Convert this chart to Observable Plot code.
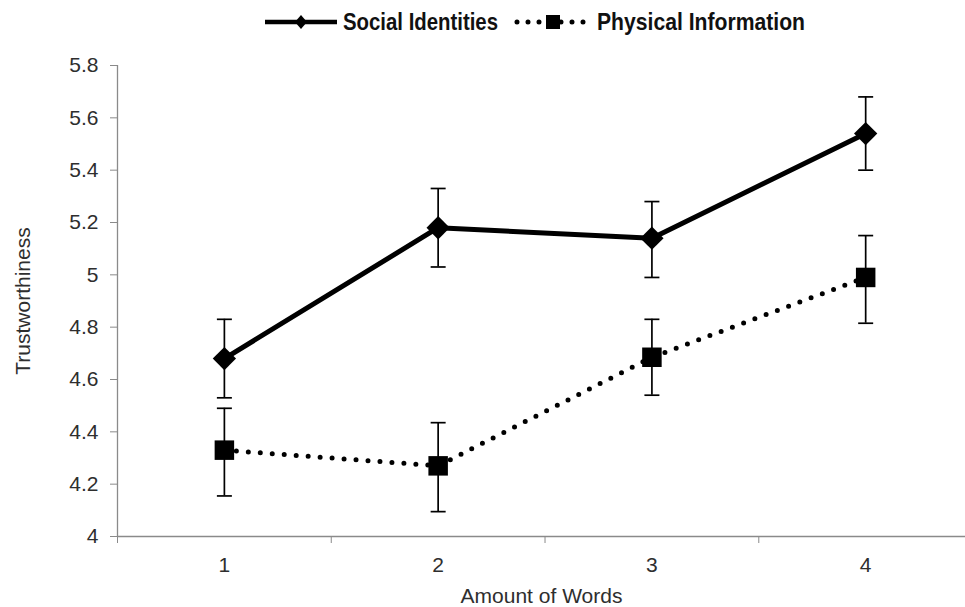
<!DOCTYPE html>
<html>
<head>
<meta charset="utf-8">
<script src="https://cdn.jsdelivr.net/npm/d3@7"></script>
<script src="https://cdn.jsdelivr.net/npm/@observablehq/plot@0.6"></script>
<style>
  html, body { margin: 0; padding: 0; background: #fff; }
  #wrap { width: 965px; height: 607px; overflow: hidden; position: relative; }
  #legend { height: 44px; display: flex; align-items: center; justify-content: center; padding-left: 104px; box-sizing: border-box; width: 965px;
    font-family: 'Liberation Sans', Arial, sans-serif; font-weight: bold; font-size: 24px; color: #111; }
  #legend .item { display: flex; align-items: center; }
  #legend svg { display: block; overflow: visible; }
  #legend .gap { width: 10px; }
</style>
</head>
<body>
<div id="wrap">
  <div id="legend"></div>
  <div id="chart"></div>
</div>
<script>
// ---- data ----
const categories = [1, 2, 3, 4];
const xTickLabels = ["1", "2", "3", "4"];
const seriesNames = ["Social Identities", "Physical Information"];
const socialMean = [4.68, 5.18, 5.14, 5.54];
const socialLow  = [4.53, 5.03, 4.99, 5.40];
const socialHigh = [4.83, 5.33, 5.28, 5.68];
const physicalMean = [4.33, 4.27, 4.685, 4.99];
const physicalLow  = [4.155, 4.095, 4.54, 4.815];
const physicalHigh = [4.49, 4.435, 4.83, 5.15];
const yTicks = [4, 4.2, 4.4, 4.6, 4.8, 5, 5.2, 5.4, 5.6, 5.8];

const social = categories.map((c, i) => ({x: c, y: socialMean[i], low: socialLow[i], high: socialHigh[i]}));
const physical = categories.map((c, i) => ({x: c, y: physicalMean[i], low: physicalLow[i], high: physicalHigh[i]}));
const all = social.concat(physical);

const capSymbol = {
  draw(context, size) {
    const r = Math.sqrt(size / Math.PI);
    context.moveTo(-r, 0);
    context.lineTo(r, 0);
  }
};

// ---- legend ----
const legend = document.getElementById("legend");
legend.innerHTML = `
  <div class="item">
    <svg width="76" height="20"><line x1="2" y1="10" x2="74" y2="10" stroke="#000" stroke-width="4.5"/>
      <path d="M38,3L44,10L38,17L32,10Z" fill="#000"/></svg>
    <svg width="160" height="30" style="margin-left:4px"><text x="0" y="23" textLength="155" lengthAdjust="spacingAndGlyphs" fill="#111">${seriesNames[0]}</text></svg>
  </div>
  <div class="gap"></div>
  <div class="item">
    <svg width="80" height="20"><line x1="4" y1="10" x2="76" y2="10" stroke="#000" stroke-width="5" stroke-linecap="round" stroke-dasharray="0 11"/>
      <rect x="33" y="3" width="14" height="14" fill="#000"/></svg>
    <svg width="210" height="30" style="margin-left:4px"><text x="0" y="23" textLength="208" lengthAdjust="spacingAndGlyphs" fill="#111">${seriesNames[1]}</text></svg>
  </div>`;

// ---- chart ----
const axisColor = "#8a8a8a";
const textColor = "#2e2e2e";
const chart = Plot.plot({
  width: 965,
  height: 563,
  marginTop: 21,
  marginBottom: 71,
  marginLeft: 117,
  marginRight: 0,
  style: { fontFamily: "'Liberation Sans', Arial, sans-serif", fontSize: "21px", background: "#fff", overflow: "visible" },
  x: { domain: [0.5, 4.467], type: "linear" },
  y: { domain: [4, 5.8], type: "linear" },
  marks: [
    Plot.ruleY([4], { stroke: axisColor, strokeWidth: 1.3 }),
    Plot.ruleX([0.5], { y1: 4, y2: 5.8, stroke: axisColor, strokeWidth: 1.3 }),
    Plot.axisY({ ticks: yTicks, tickSize: 7, tickPadding: 12, stroke: axisColor, fill: textColor, fontSize: 21,
      tickFormat: d => String(+d.toFixed(1)),
      label: "Trustworthiness", labelAnchor: "center", labelOffset: 102, labelArrow: "none" }),
    Plot.axisX({ ticks: [0.5, 1.5, 2.5, 3.5], tickSize: 7, stroke: axisColor, tickFormat: () => "", label: null }),
    Plot.axisX({ ticks: categories, tickSize: 0, tickPadding: 21, fill: textColor, fontSize: 21,
      tickFormat: d => xTickLabels[categories.indexOf(d)],
      label: "Amount of Words", labelAnchor: "center", labelOffset: 66, labelArrow: "none" }),
    Plot.ruleX(all, { x: "x", y1: "low", y2: "high", stroke: "#000", strokeWidth: 1.7 }),
    Plot.dot(all, { x: "x", y: "low", symbol: capSymbol, r: 7.5, stroke: "#000", strokeWidth: 1.7, fill: "none" }),
    Plot.dot(all, { x: "x", y: "high", symbol: capSymbol, r: 7.5, stroke: "#000", strokeWidth: 1.7, fill: "none" }),
    Plot.line(social, { x: "x", y: "y", stroke: "#000", strokeWidth: 5 }),
    Plot.line(physical, { x: "x", y: "y", stroke: "#000", strokeWidth: 5, strokeLinecap: "round", strokeDasharray: "0 12" }),
    Plot.dot(social, { x: "x", y: "y", symbol: "diamond2", r: 10.5, fill: "#000", stroke: null }),
    Plot.dot(physical, { x: "x", y: "y", symbol: "square", r: 11, fill: "#000", stroke: null })
  ]
});
document.getElementById("chart").appendChild(chart);
</script>
</body>
</html>
